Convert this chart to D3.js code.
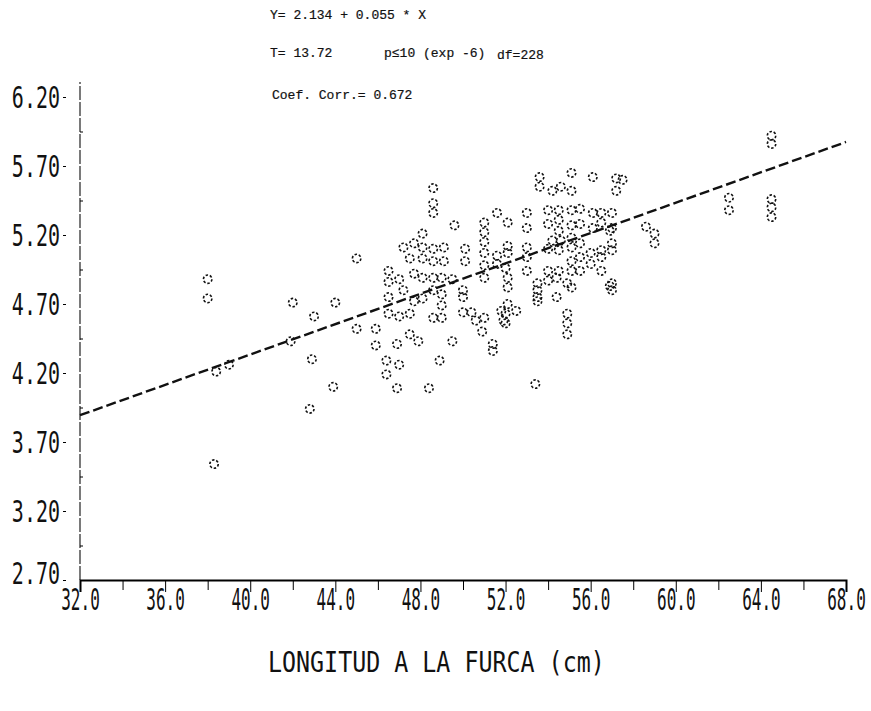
<!DOCTYPE html>
<html>
<head>
<meta charset="utf-8">
<script src="https://cdn.jsdelivr.net/npm/d3@7"></script>
<style>
    body { margin: 0; background: #fff; }
    svg { display: block; }
    .head { font-family: 'Liberation Mono', 'DejaVu Sans Mono', monospace; font-size: 13px; fill: #111; stroke: #111; stroke-width: 0.2; }
    .tick text, .matrix { font-family: 'DejaVu Sans Mono', monospace; fill: #111; }
</style>
</head>
<body>
<svg id="chart" width="871" height="711"></svg>
<script>
const columnX = [38.0, 38.3, 38.4, 39.0, 41.9, 42.0, 42.8, 42.9, 43.0, 43.9, 44.0, 45.0, 45.9, 46.4, 46.5,
    46.9, 47.0, 47.2, 47.5, 47.7, 47.9, 48.1, 48.4, 48.6, 48.9, 49.0, 49.1, 49.5, 49.6, 50.0,
    50.1, 50.4, 50.6, 50.9, 51.0, 51.4, 51.6, 51.8, 51.9, 52.0, 52.1, 52.5, 53.0, 53.4, 53.5,
    53.6, 54.0, 54.2, 54.4, 54.5, 54.6, 54.9, 55.1, 55.5, 56.0, 56.1, 56.5, 56.9, 57.0, 57.2,
    57.5, 58.6, 59.0, 62.5, 64.5];
const columnY = [
    [4.88, 4.74], [3.54], [4.21], [4.26], [4.43], [4.71], [3.94], [4.30], [4.61], [4.10], [4.71],
    [5.03, 4.52], [4.52, 4.40], [4.29, 4.19], [4.94, 4.86, 4.63, 4.75],
    [4.41, 4.09], [4.26, 4.88, 4.61], [5.11, 4.80], [4.63, 4.48, 5.03], [5.14, 4.92, 4.72], [4.43],
    [5.21, 5.11, 5.03, 4.89, 4.74], [4.09], [5.54, 5.43, 5.36, 5.10, 5.01, 4.89, 4.80, 4.60], [4.29],
    [4.60, 4.89, 4.77, 4.69], [5.11, 5.01], [4.43, 4.88], [5.27], [4.64, 4.80, 4.75],
    [5.10, 5.01], [4.64], [4.58], [4.50], [4.60, 5.29, 5.22, 5.15, 5.07, 4.98, 4.89],
    [4.36, 4.41], [5.36, 5.05, 4.99], [4.65], [4.58], [4.63, 4.56, 4.96],
    [5.29, 5.12, 5.07, 4.89, 4.82, 4.70], [4.65], [5.36, 5.25, 5.11, 5.04, 4.94], [4.12],
    [4.85, 4.75, 4.80, 4.72], [5.62, 5.55], [4.94, 4.87, 5.38, 5.28, 5.10], [5.52, 5.16],
    [4.89, 4.75], [5.38, 5.23, 5.09, 4.94, 5.31], [5.55, 5.16], [4.85, 4.63, 4.56, 4.48],
    [5.65, 5.52, 5.38, 5.27, 5.18, 5.11, 5.01, 4.94, 4.82], [5.39, 5.14, 5.04, 4.94, 5.28],
    [5.07, 4.99], [5.36, 5.25, 5.62], [5.36, 5.29, 5.09, 5.04, 4.94], [4.83, 5.23],
    [5.36, 5.14, 5.25, 5.09, 4.85, 4.80], [5.61, 5.52], [5.60], [5.26], [5.21, 5.14],
    [5.47, 5.38], [5.92, 5.86, 5.46, 5.40, 5.33]
];

// recta de regresion Y = a + b * X
const intercept = 2.134;
const slope = 0.055;

const xTicks = [32, 36, 40, 44, 48, 52, 56, 60, 64, 68];
const xMinorTicks = [34, 38, 42, 46, 50, 54, 58, 62, 66];
const yTicks = [2.7, 3.2, 3.7, 4.2, 4.7, 5.2, 5.7, 6.2];
const yMinorTicks = [2.95, 3.45, 3.95, 4.45, 4.95, 5.45, 5.95];

const headerLines = [
    { text: 'Y= 2.134 + 0.055 * X', x: 270, y: 19 },
    { text: 'T= 13.72', x: 270, y: 57 },
    { text: 'p\u226410 (exp -6)', x: 384, y: 57 },
    { text: 'df=228', x: 497, y: 59 },
    { text: 'Coef. Corr.= 0.672', x: 272, y: 99 }
];

const points = columnX.flatMap((x, i) => columnY[i].map((y) => ({ x: x, y: y })));

const svg = d3.select('#chart');

let x = d3.scaleLinear().domain([32, 68]).range([80, 846]);
let y = d3.scaleLinear().domain([2.7, 6.2]).range([580, 97]);

const fmt = d3.format('.2f');
const fmtX = d3.format('.1f');

// eje Y
svg.append('line')
    .attr('x1', 80).attr('x2', 80)
    .attr('y1', 580).attr('y2', 82)
    .attr('stroke', '#222')
    .attr('stroke-width', 1.2)
    .attr('stroke-dasharray', '14 2');

// letras de impresora: fuente pequena estirada en vertical
let yAxis = svg.append('g')
    .attr('transform', 'translate(66, 0)')
    .call(d3.axisLeft(y).tickValues(yTicks).tickFormat(fmt).tickSize(3).tickPadding(3));
yAxis.select('.domain').remove();
yAxis.selectAll('text')
    .attr('font-size', 20)
    .attr('x', -6)
    .attr('y', 0)
    .attr('dy', (d) => d === 2.7 ? '0.12em' : '0.36em')
    .attr('transform', 'scale(1, 1.5)');

svg.append('g')
    .attr('transform', 'translate(80, 0)')
    .call(d3.axisRight(y).tickValues(yMinorTicks).tickFormat('').tickSize(3))
    .select('.domain').remove();

// eje X
let xAxis = svg.append('g')
    .attr('transform', 'translate(0, 580)')
    .call(d3.axisBottom(x).tickValues(xTicks).tickFormat(fmtX).tickSizeOuter(0).tickSize(12));
xAxis.select('.domain').attr('stroke-width', 2);
xAxis.selectAll('text')
    .attr('font-size', 20)
    .attr('y', 6)
    .attr('dy', '0.71em')
    .attr('transform', 'scale(0.8, 1.5)');

svg.append('g')
    .attr('transform', 'translate(0, 580)')
    .call(d3.axisBottom(x).tickValues(xMinorTicks).tickFormat('').tickSize(10))
    .select('.domain').remove();

// recta de regresion
svg.append('line')
    .attr('x1', x(32)).attr('y1', y(intercept + slope * 32))
    .attr('x2', x(68)).attr('y2', y(intercept + slope * 68))
    .attr('stroke', '#111')
    .attr('stroke-width', 2.4)
    .attr('stroke-dasharray', '10 4');

// puntos
svg.append('g')
    .selectAll('circle')
    .data(points)
    .enter()
    .append('circle')
    .attr('cx', (d) => x(d.x))
    .attr('cy', (d) => y(d.y))
    .attr('r', 4.2)
    .attr('fill', 'none')
    .attr('stroke', '#111')
    .attr('stroke-width', 1.6)
    .attr('stroke-dasharray', '2.5 1.8');

// textos de cabecera
svg.append('g')
    .selectAll('text')
    .data(headerLines)
    .enter()
    .append('text')
    .attr('class', 'head')
    .attr('x', (d) => d.x)
    .attr('y', (d) => d.y)
    .text((d) => d.text);

svg.append('text')
    .attr('class', 'matrix')
    .attr('transform', 'translate(268, 672) scale(1.166, 1.4)')
    .attr('font-size', 20)
    .text('LONGITUD A LA FURCA (cm)');
</script>
</body>
</html>
